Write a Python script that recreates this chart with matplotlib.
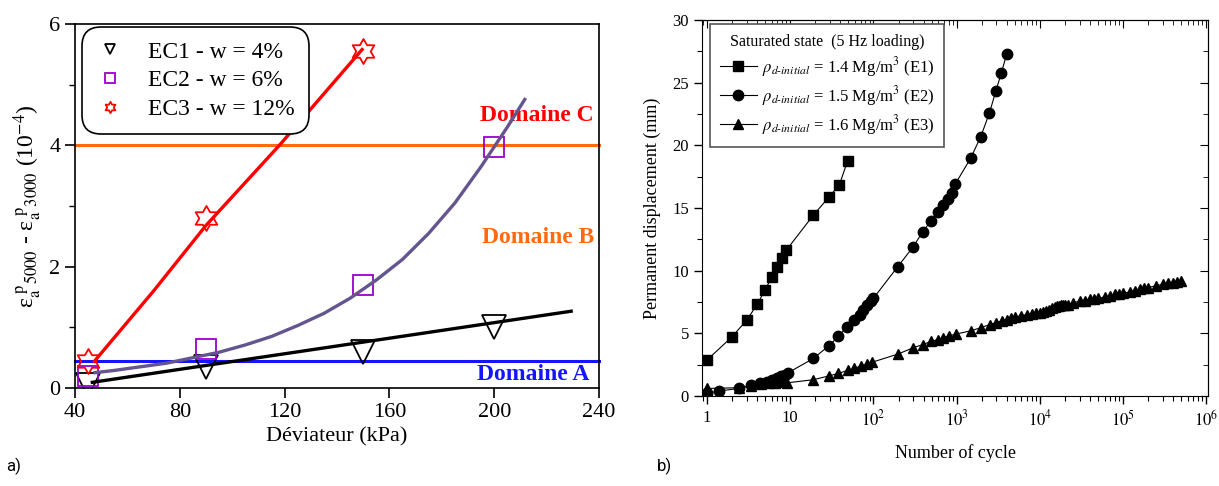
import matplotlib
matplotlib.use("Agg")
import matplotlib.pyplot as plt
from matplotlib.path import Path
from matplotlib.ticker import MultipleLocator, FixedLocator, NullFormatter, LogLocator
import numpy as np

plt.rcParams['font.family'] = ['Liberation Serif', 'DejaVu Serif']
plt.rcParams['mathtext.fontset'] = 'stix'

# ---- panel a) data ----
dev_ec1 = [45, 90, 150, 200]
eps_ec1 = [0.05, 0.35, 0.6, 1.0]
dev_ec2 = [45, 90, 150, 200]
eps_ec2 = [0.2, 0.65, 1.7, 3.97]
dev_ec3 = [45, 90, 150]
eps_ec3 = [0.45, 2.8, 5.55]

fit1_x = [46, 230]
fit1_y = [0.09, 1.27]
fit2_x = [47, 55, 65, 75, 85, 95, 105, 115, 125, 135, 145, 155, 165, 175, 185, 195, 205, 212]
fit2_y = [0.25, 0.29, 0.35, 0.41, 0.5, 0.59, 0.71, 0.85, 1.03, 1.23, 1.48, 1.78, 2.12, 2.55, 3.05,
          3.65, 4.3, 4.78]
fit3_x = [47, 70, 90, 118, 150]
fit3_y = [0.42, 1.6, 2.68, 4.0, 5.6]

limit_bc = 4.0
limit_ab = 0.45

# ---- panel b) data ----
n_e1 = [1, 2, 3, 4, 5, 6, 7, 8, 9, 19, 29, 39, 49]
d_e1 = [2.87, 4.73, 6.06, 7.31, 8.48, 9.49, 10.29, 10.98, 11.65, 14.44, 15.85, 16.86, 18.78]

n_e2 = [1, 1.4, 2.4, 3.4, 4.3, 5.2, 6, 6.9, 7.8, 8.6, 9.4, 19, 29, 38, 48, 59, 68, 75, 84, 93, 100,
        195, 300, 390, 490, 590, 690, 780, 870, 960, 1480, 1950, 2480, 2950, 3450, 4000]
d_e2 = [0.2, 0.4, 0.6, 0.85, 1.0, 1.15, 1.3, 1.45, 1.6, 1.7, 1.85, 3.0, 4.0, 4.75, 5.5, 6.1, 6.5, 6.85,
        7.25, 7.55, 7.8, 10.3, 11.9, 13.1, 13.95, 14.65, 15.25, 15.75, 16.2, 16.9, 19.0, 20.7, 22.6,
        24.3, 25.8, 27.3]

n_e3 = [1, 2.4, 3.4, 4.4, 5.5, 6.6, 8, 9.2, 19, 29, 38, 49, 59, 71, 84, 97, 198, 300, 390, 490, 590,
        690, 820, 990, 1480, 1950, 2500, 3000, 3500, 4000, 4500, 5000, 6000, 7000, 8000, 9000, 10000,
        11000, 12000, 13000, 14000, 15000, 16000, 17000, 18000, 19000, 20000, 22000, 25000, 30000,
        35000, 40000, 45000, 50000, 60000, 70000, 80000, 90000, 100000, 120000, 140000, 160000,
        180000, 200000, 250000, 300000, 350000, 400000, 450000, 500000]
d_e3 = [0.6, 0.66, 0.82, 0.92, 1.0, 1.05, 1.1, 1.05, 1.3, 1.6, 1.8, 2.05, 2.2, 2.4, 2.55, 2.7, 3.35,
        3.85, 4.1, 4.35, 4.5, 4.65, 4.8, 4.95, 5.2, 5.45, 5.7, 5.85, 6.0, 6.1, 6.2, 6.3, 6.4, 6.5,
        6.55, 6.6, 6.65, 6.7, 6.8, 6.9, 7.0, 7.1, 7.15, 7.2, 7.25, 7.3, 7.3, 7.25, 7.45, 7.55, 7.6,
        7.7, 7.75, 7.8, 7.9, 8.0, 8.1, 8.15, 8.2, 8.3, 8.4, 8.5, 8.6, 8.65, 8.8, 8.9, 9.0, 9.05,
        9.1, 9.2]

fig = plt.figure(figsize=(12.19, 4.86), dpi=100)

# ================= panel a =================
ax = fig.add_axes([0.0615, 0.2016, 0.4299, 0.749])

star6 = Path.unit_regular_star(6, 0.577)

ax.axhline(limit_bc, color='#ff6a10', lw=2.2, zorder=2, clip_on=False)
ax.axhline(limit_ab, color='#1414ff', lw=2.2, zorder=2, clip_on=False)

ax.plot(dev_ec1, eps_ec1, linestyle='none', marker='v', ms=17, mfc='none', mec='black', mew=1.3,
        label='EC1 - w = 4%', zorder=3)
ax.plot(dev_ec2, eps_ec2, linestyle='none', marker='s', ms=15, mfc='none', mec='#9900cc', mew=1.3,
        label='EC2 - w = 6%', zorder=3)
ax.plot(dev_ec3, eps_ec3, linestyle='none', marker=star6, ms=18, mfc='none', mec='red', mew=1.3,
        label='EC3 - w = 12%', zorder=3)

ax.plot(fit1_x, fit1_y, color='black', lw=2.4, zorder=4, solid_capstyle='butt')
ax.plot(fit2_x, fit2_y, color='#64558f', lw=2.4, zorder=4, solid_capstyle='butt')
ax.plot(fit3_x, fit3_y, color='red', lw=2.4, zorder=4, solid_capstyle='butt')

ax.text(238, 4.40, 'Domaine C', color='red', fontsize=17, fontweight='bold', ha='right', va='baseline')
ax.text(238, 2.39, 'Domaine B', color='#ff6a10', fontsize=17, fontweight='bold', ha='right', va='baseline')
ax.text(236.5, 0.13, 'Domaine A', color='#1414ff', fontsize=17, fontweight='bold', ha='right', va='baseline')

ax.set_xlim(40, 240)
ax.set_ylim(0, 6)
ax.xaxis.set_major_locator(MultipleLocator(40))
ax.yaxis.set_major_locator(MultipleLocator(2))
ax.yaxis.set_minor_locator(MultipleLocator(1))
ax.tick_params(which='major', direction='out', length=7, width=1.2, labelsize=16)
ax.tick_params(which='minor', direction='out', length=4, width=1.0)
for s in ax.spines.values():
    s.set_linewidth(1.2)
ax.set_xlabel('Déviateur (kPa)', fontsize=16, labelpad=4)
ax.set_ylabel(r'ε$_{\mathrm{a}}^{\ \mathrm{p}}{}_{5000}$ - '
              r'ε$_{\mathrm{a}}^{\ \mathrm{p}}{}_{3000}$ (10$^{-4}$)',
              fontsize=17, labelpad=4)

leg = ax.legend(loc='upper left', bbox_to_anchor=(0.013, 0.992), borderaxespad=0, fontsize=17,
                markerscale=0.45, handlelength=1.2, handletextpad=1.0, labelspacing=0.3,
                borderpad=0.6, fancybox=True, framealpha=1, edgecolor='black')
leg.get_frame().set_linewidth(1.2)
leg.get_frame().set_boxstyle('round', pad=0, rounding_size=0.8)

fig.text(0.005, 0.03, 'a)', fontsize=12, family=['Roboto', 'DejaVu Sans'])

# ================= panel b =================
bx = fig.add_axes([0.5759, 0.1852, 0.4151, 0.7736])
bx.plot(n_e1, d_e1, color='black', lw=0.8, marker='s', ms=7, label=r'$\rho_{d\text{-}initial}$ = 1.4 Mg/m$^3$ (E1)')
bx.plot(n_e2, d_e2, color='black', lw=0.8, marker='o', ms=7.5, label=r'$\rho_{d\text{-}initial}$ = 1.5 Mg/m$^3$ (E2)')
bx.plot(n_e3, d_e3, color='black', lw=0.8, marker='^', ms=7.5, label=r'$\rho_{d\text{-}initial}$ = 1.6 Mg/m$^3$ (E3)')

bx.set_xscale('log')
bx.set_xlim(0.87, 1.05e6)
bx.set_ylim(0, 30)
bx.xaxis.set_major_locator(FixedLocator([1, 10, 100, 1e3, 1e4, 1e5, 1e6]))
bx.xaxis.set_minor_locator(LogLocator(base=10, subs=np.arange(2, 10)))
bx.xaxis.set_minor_formatter(NullFormatter())
bx.set_xticklabels(['1', '10', r'$10^2$', r'$10^3$', r'$10^4$', r'$10^5$', r'$10^6$'])
bx.yaxis.set_major_locator(MultipleLocator(5))
bx.yaxis.set_minor_locator(MultipleLocator(2.5))
bx.tick_params(which='major', direction='out', length=6, width=1.0, labelsize=12)
bx.tick_params(which='minor', direction='out', length=3.5, width=0.8)
bx.tick_params(axis='x', pad=4)

top = bx.secondary_xaxis('top')
top.xaxis.set_major_locator(FixedLocator([1, 10, 100, 1e3, 1e4, 1e5, 1e6]))
top.xaxis.set_minor_locator(LogLocator(base=10, subs=np.arange(2, 10)))
top.tick_params(which='major', direction='in', length=6, labeltop=False)
top.tick_params(which='minor', direction='in', length=3.5, labeltop=False)
right = bx.secondary_yaxis('right')
right.yaxis.set_major_locator(MultipleLocator(5))
right.yaxis.set_minor_locator(MultipleLocator(2.5))
right.tick_params(which='major', direction='in', length=6, labelright=False)
right.tick_params(which='minor', direction='in', length=3.5, labelright=False)

bx.set_xlabel('Number of cycle', fontsize=13, labelpad=10)
bx.set_ylabel('Permanent displacement (mm)', fontsize=13, labelpad=8)

leg2 = bx.legend(loc='upper left', bbox_to_anchor=(0.016, 0.99), borderaxespad=0, fontsize=12,
                 title='Saturated state  (5 Hz loading)', title_fontsize=11.5, fancybox=False,
                 edgecolor='#555555', framealpha=1, handlelength=2.2, handletextpad=0.3,
                 labelspacing=0.3, borderpad=0.6)
leg2.get_frame().set_linewidth(1.2)

fig.text(0.539, 0.03, 'b)', fontsize=12, family=['Roboto', 'DejaVu Sans'])

fig.savefig('out.png', dpi=100)
